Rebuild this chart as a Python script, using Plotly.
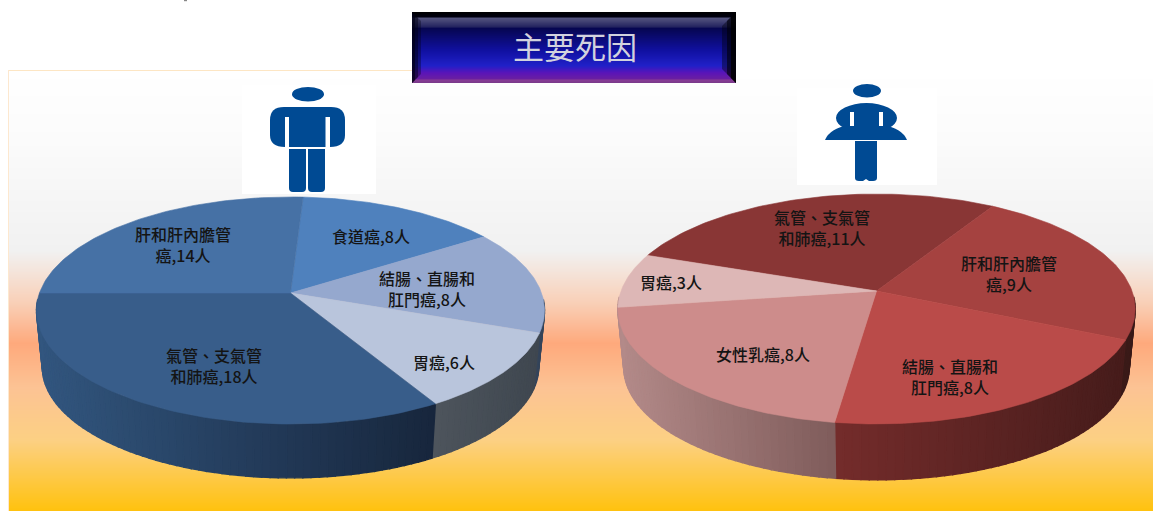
import numpy as np
import plotly.graph_objects as go

# ---- data ----
male_causes = ["食道癌", "結腸、直腸和<br>肛門癌", "胃癌", "氣管、支氣管<br>和肺癌", "肝和肝內膽管<br>癌"]
male_values = [8, 8, 6, 18, 14]
female_causes = ["氣管、支氣管<br>和肺癌", "肝和肝內膽管<br>癌", "結腸、直腸和<br>肛門癌", "女性乳癌", "胃癌"]
female_values = [11, 9, 8, 8, 3]
title_text = "主要死因"

# ---- styles / layout ----
W, H = 1153, 511
FONT = "Noto Sans CJK TC"
male_geom = dict(cx=290.5, cy=293, R=251, a=65.7, c=-0.154, ecy=310.5, s=0.977, bcy=367, start=3.33)
female_geom = dict(cx=876.5, cy=291, R=255.5, a=66.6, c=-0.1565, ecy=309, s=0.977, bcy=367.5, start=-70.5)
male_top = ["#4f81bd", "#95a8ce", "#b9c5dc", "#385d8a", "#4671a5"]
female_top = ["#893635", "#a54240", "#ba4b49", "#cd8c8b", "#ddb7b6"]
male_side = [("#2f4d72", "#2f4d72"), ("#34445a", "#3c4a5c"), ("#3f4750", "#4d545c"), ("#17263c", "#32567f"), ("#32567f", "#32567f")]
female_side = [("#5a2221", "#5a2221"), ("#3a1a18", "#421c1b"), ("#461c1b", "#742c2b"), ("#7f5c5b", "#b38a89"), ("#b38a89", "#b38a89")]
male_label_xy = [(371, 236), (427, 288), (444, 362), (214, 365), (183, 244)]
female_label_xy = [(822, 227), (1009, 273), (950, 376), (763, 354), (671, 282)]
ICON = "#004a93"


def hex2rgb(h):
    return np.array([int(h[i:i + 2], 16) for i in (1, 3, 5)], float)


def mix(c0, c1, t):
    v = hex2rgb(c0) * (1 - t) + hex2rgb(c1) * t
    return f"rgb({v[0]:.0f},{v[1]:.0f},{v[2]:.0f})"


def project(theta, rho, g):
    u = rho * np.sin(theta)
    v = -rho * np.cos(theta)
    d = 1 + g["c"] * v
    return g["cx"] + g["R"] * u / d, (g["a"] * v + g["cy"]) / d


def to_bottom(x, y, g):
    return g["cx"] + (x - g["cx"]) * g["s"], g["bcy"] + (y - g["ecy"]) * g["s"]


def poly(fig, xs, ys, color, lw=0.6):
    fig.add_trace(go.Scatter(x=xs, y=ys, mode="lines", fill="toself", fillcolor=color,
                             line=dict(color=color, width=lw), hoverinfo="skip", showlegend=False))


def pie3d(fig, values, tops, sides, g):
    total = sum(values)
    edges = np.radians(g["start"] + np.cumsum([0] + list(values)) * 360.0 / total)
    # side wall, built from overlapping strips on the visible front part
    for i in range(len(values)):
        a0, a1 = edges[i], edges[i + 1]
        th = np.linspace(a0, a1, max(2, int((a1 - a0) * 36)))
        x_all, _ = project(th, 1.0, g)
        lo, hi = x_all.min(), x_all.max()
        order = list(zip(th[:-1], th[1:]))
        for t0, t1 in order:
            if -np.cos((t0 + t1) / 2) < 0.05:
                continue
            tx = np.linspace(t0, t1, 3)
            xt, yt = project(tx, 1.0, g)
            xb, yb = to_bottom(xt, yt, g)
            f = (xt.mean() - lo) / max(hi - lo, 1e-6)
            poly(fig, list(xt) + list(xb[::-1]) + [xt[0]], list(yt) + list(yb[::-1]) + [yt[0]],
                 mix(sides[i][1], sides[i][0], f), lw=1.4)
    # top faces
    for i in range(len(values)):
        th = np.linspace(edges[i], edges[i + 1], 80)
        x, y = project(th, 1.0, g)
        poly(fig, [g["cx"]] + list(x) + [g["cx"]], [g["cy"]] + list(y) + [g["cy"]], tops[i])


def band(fig, x0, x1, y0, y1, stops):
    edges_y = np.arange(y0, y1 + 1, 1.0)
    mids = (edges_y[:-1] + 0.5 - y0) / (y1 - y0)
    fig.add_trace(go.Heatmap(x=[x0, x1], y=edges_y, z=[[v] for v in mids], zmin=0, zmax=1,
                             colorscale=[[p, c] for p, c in stops], showscale=False, hoverinfo="skip"))


fig = go.Figure()

# panel background gradient
band(fig, 9, 1153, 70, 511,
     [(0, "#ffffff"), (0.16, "#fbfbfb"), (0.41, "#f1f1f1"), (0.45, "#f4e6de"), (0.53, "#f9cfb6"), (0.62, "#fea97c"),
      (0.72, "#fcc394"), (0.84, "#fcd083"), (1, "#ffc20e")])

pie3d(fig, male_values, male_top, male_side, male_geom)
pie3d(fig, female_values, female_top, female_side, female_geom)

# title plate
band(fig, 412, 736, 12, 83,
     [(0, "#000000"), (0.07, "#000010"), (0.086, "#55557f"), (0.21, "#23235f"), (0.23, "#060650"), (0.54, "#1010a0"),
      (0.757, "#2020c8"), (0.857, "#5a14b8"), (0.943, "#6a1fa0"), (0.957, "#883c96"), (1, "#7a3a8a")])
for w, col in ((9, "rgba(0,0,20,0.35)"), (6, "rgba(0,0,20,0.45)"), (3, "rgba(0,0,20,0.6)")):
    poly(fig, [412, 412 + w, 412 + w, 412, 412], [12, 12 + w, 83 - w, 83, 12], col, lw=0)
for w, col in ((14, "rgba(0,0,10,0.4)"), (9, "rgba(0,0,10,0.6)"), (5, "rgba(0,0,0,0.8)")):
    poly(fig, [736, 736 - w, 736 - w, 736, 736], [12, 12 + w, 83 - w, 83, 12], col, lw=0)

shapes = [
    dict(type="line", x0=9, x1=412, y0=70.5, y1=70.5, line=dict(color="#fde6c4", width=1), layer="above"),
    dict(type="line", x0=8.5, x1=8.5, y0=70, y1=511, line=dict(color="#fde8cf", width=1), layer="above"),
    # small cut-off mark at the very top
    dict(type="rect", x0=184, x1=187, y0=0, y1=1.2, fillcolor="#888888", line=dict(width=0)),
    # white icon boxes
    dict(type="rect", x0=242, x1=376, y0=85, y1=194, fillcolor="#ffffff", line=dict(width=0), layer="above"),
    dict(type="rect", x0=797, x1=937, y0=88, y1=185, fillcolor="#ffffff", line=dict(width=0), layer="above"),
    # male icon
    dict(type="circle", x0=292, x1=324, y0=87, y1=101.5, fillcolor=ICON, line=dict(width=0), layer="above"),
    dict(type="path", path="M270 120 Q270 107 284 107 L331 107 Q345 107 345 120 L345 135 Q345 147 330 147 L285 147 Q270 147 270 135 Z",
         fillcolor=ICON, line=dict(width=0), layer="above"),
    dict(type="rect", x0=285, x1=289, y0=117, y1=147, fillcolor="#ffffff", line=dict(width=0), layer="above"),
    dict(type="rect", x0=325.5, x1=330, y0=117, y1=147, fillcolor="#ffffff", line=dict(width=0), layer="above"),
    dict(type="path", path="M289 149 L306 149 L306 188 Q306 192 302 192 L293 192 Q289 192 289 188 Z",
         fillcolor=ICON, line=dict(width=0), layer="above"),
    dict(type="path", path="M308 149 L325 149 L325 188 Q325 192 321 192 L312 192 Q308 192 308 188 Z",
         fillcolor=ICON, line=dict(width=0), layer="above"),
    # female icon
    dict(type="circle", x0=853, x1=881, y0=84, y1=97.5, fillcolor=ICON, line=dict(width=0), layer="above"),
    dict(type="circle", x0=836, x1=897, y0=103, y1=133, fillcolor=ICON, line=dict(width=0), layer="above"),
    dict(type="path", path="M825 140 Q830 128 850 125 L882 125 Q902 128 907 140 Z",
         fillcolor=ICON, line=dict(width=0), layer="above"),
    dict(type="rect", x0=850, x1=854, y0=112, y1=126, fillcolor="#ffffff", line=dict(width=0), layer="above"),
    dict(type="rect", x0=879, x1=883, y0=112, y1=126, fillcolor="#ffffff", line=dict(width=0), layer="above"),
    dict(type="path", path="M855 141 L877 141 L877 178 Q877 181 873 181 L869 181 L866 179 L863 181 L859 181 Q855 181 855 178 Z",
         fillcolor=ICON, line=dict(width=0), layer="above"),
]

annotations = [dict(x=574.5, y=45, text=title_text, showarrow=False,
                    font=dict(family=FONT, size=31, color="#d2d2de"))]
for causes, vals, xys in ((male_causes, male_values, male_label_xy), (female_causes, female_values, female_label_xy)):
    for c, v, (x, y) in zip(causes, vals, xys):
        annotations.append(dict(x=x, y=y, text=f"{c},{v}人", showarrow=False, align="center",
                                font=dict(family=FONT, size=16, color="#141414", weight=500)))

fig.update_layout(
    width=W, height=H, margin=dict(l=0, r=0, t=0, b=0), autosize=False,
    paper_bgcolor="#ffffff", plot_bgcolor="#ffffff", showlegend=False,
    xaxis=dict(range=[0, W], visible=False, fixedrange=True),
    yaxis=dict(range=[H, 0], visible=False, fixedrange=True),
    shapes=shapes, annotations=annotations,
)
fig.write_html("out.html", config={"displayModeBar": False},
               post_script="document.body.style.margin='0';document.documentElement.style.overflow='hidden';")
